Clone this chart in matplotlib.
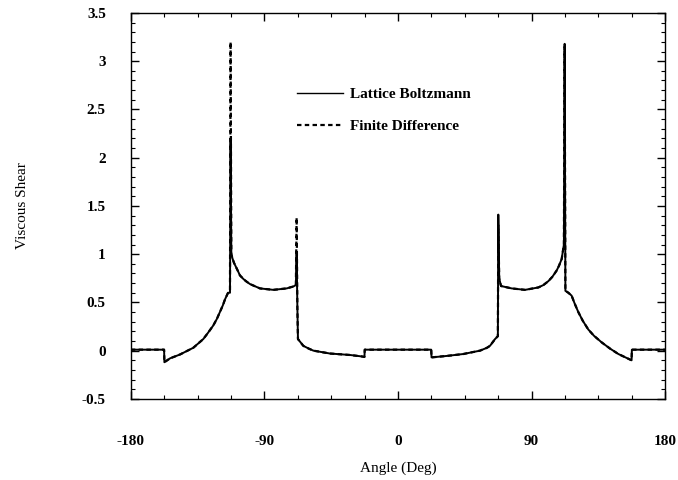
import numpy as np
import matplotlib
matplotlib.use("Agg")
import matplotlib.pyplot as plt
from matplotlib.ticker import MultipleLocator

# Datos (angulo en grados, cortante viscoso)
angulo = [-180, -157.6, -157.4, -153.6, -146.9, -137.9, -131.2, -128, -124.5, -122,
          -120, -118, -116.6, -114.5, -113.2, -112.8, -112.3, -111.4, -110.5, -108,
          -106.5, -104, -102, -99.7, -96, -93, -84, -75, -70.5, -68.8,
          -68.3, -67.8, -67.4, -63.8, -60, -57, -45.8, -32.3, -24.5, -22.6,
          -22.4, 22.4, 22.6, 32.8, 44, 55.3, 60, 62, 65.4, 67.3,
          67.6, 68.2, 69.4, 76.6, 85.6, 94.6, 98, 101.3, 104, 106.9,
          108.5, 110.3, 111.8, 112.3, 112.8, 114.8, 117, 119, 121.5, 124.5,
          128.2, 132, 137.3, 143, 148.5, 157.4, 157.6, 180]

lattice = [0.01, 0.01, -0.12, -0.08, -0.04, 0.03, 0.12, 0.185, 0.26, 0.33,
           0.40, 0.47, 0.53, 0.60, 0.60, 2.20, 1.00, 0.95, 0.91, 0.83,
           0.78, 0.74, 0.715, 0.69, 0.665, 0.645, 0.63, 0.645, 0.665, 0.68,
           1.02, 0.45, 0.12, 0.05, 0.02, 0.0, -0.03, -0.045, -0.06, -0.065,
           0.01, 0.01, -0.07, -0.055, -0.035, 0.0, 0.03, 0.05, 0.12, 0.15,
           1.41, 0.75, 0.67, 0.645, 0.63, 0.655, 0.68, 0.72, 0.765, 0.83,
           0.88, 0.95, 1.10, 3.18, 0.62, 0.60, 0.57, 0.49, 0.40, 0.31,
           0.22, 0.155, 0.085, 0.02, -0.035, -0.10, 0.01, 0.01]

finitas = [0.01, 0.01, -0.12, -0.08, -0.04, 0.03, 0.12, 0.185, 0.26, 0.33,
           0.40, 0.47, 0.53, 0.60, 0.62, 3.20, 1.00, 0.95, 0.91, 0.83,
           0.78, 0.74, 0.715, 0.69, 0.665, 0.645, 0.63, 0.645, 0.665, 0.68,
           1.38, 0.45, 0.12, 0.05, 0.02, 0.0, -0.03, -0.045, -0.06, -0.065,
           0.01, 0.01, -0.07, -0.055, -0.035, 0.0, 0.03, 0.05, 0.12, 0.15,
           1.30, 0.75, 0.67, 0.645, 0.63, 0.655, 0.68, 0.72, 0.765, 0.83,
           0.88, 0.95, 1.10, 3.15, 0.62, 0.60, 0.57, 0.49, 0.40, 0.31,
           0.22, 0.155, 0.085, 0.02, -0.035, -0.10, 0.01, 0.01]

ticksX = [-180, -90, 0, 90, 180]

plt.rcParams['font.family'] = ['Liberation Serif', 'DejaVu Serif']
plt.rcParams['font.weight'] = 'bold'

fig = plt.figure(figsize=(6.78, 4.80), dpi=100)
ax = fig.add_axes([0.193, 0.169, 0.788, 0.804])

ax.plot(angulo, lattice, color='black', linewidth=1.4, label='Lattice Boltzmann')
ax.plot(angulo, finitas, color='black', linewidth=1.6, linestyle=(0, (2, 1.5)),
        label='Finite Difference')

ax.set_xlim(-180, 180)
ax.set_ylim(-0.5, 3.5)
ax.set_xticks(ticksX)
ax.set_xticklabels([str(t) for t in ticksX])
ax.set_yticks([-0.5, 0, 0.5, 1, 1.5, 2, 2.5, 3, 3.5])
ax.set_yticklabels(['-0.5', '0', '0.5', '1', '1.5', '2', '2.5', '3', '3.5'])
ax.xaxis.set_minor_locator(MultipleLocator(22.5))
ax.yaxis.set_minor_locator(MultipleLocator(0.1))
ax.tick_params(which='both', direction='in', top=True, right=True, labelsize=11)
ax.tick_params(which='major', length=6, width=1)
ax.tick_params(which='minor', length=3, width=0.8)
ax.tick_params(axis='x', which='major', pad=26)
ax.tick_params(axis='y', which='major', pad=18)
for lado in ax.spines.values():
    lado.set_linewidth(1.0)

ax.set_xlabel('Angle (Deg)', fontsize=11, labelpad=10)
ax.set_ylabel('Viscous Shear', fontsize=11, labelpad=38)

leyenda = ax.legend(loc='upper left', bbox_to_anchor=(0.311, 0.807), frameon=False,
                    fontsize=11, handlelength=3.0, handletextpad=0.5, labelspacing=1.2,
                    borderpad=0, borderaxespad=0)
leyenda.get_lines()[0].set_linewidth(1.0)

fig.savefig('out.png', dpi=100)
